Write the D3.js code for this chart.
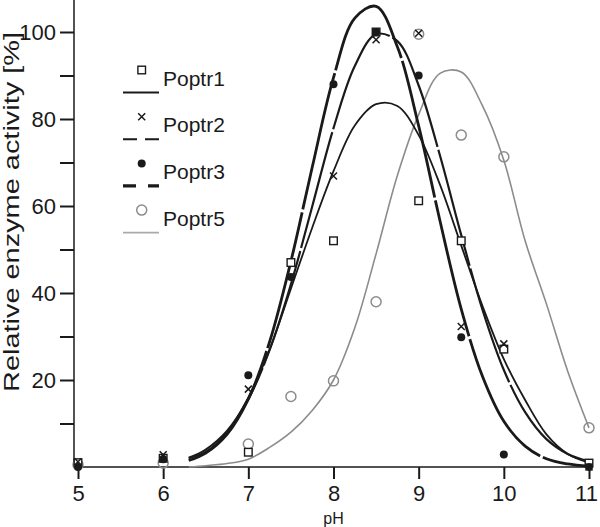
<!DOCTYPE html>
<html>
<head>
<meta charset="utf-8">
<script src="https://cdn.jsdelivr.net/npm/d3@7"></script>
<style>
  html, body { margin: 0; padding: 0; background: #fff; }
  svg { display: block; }
  text { font-family: "Liberation Sans", Arial, Helvetica, sans-serif; fill: #1a1a1a; }
</style>
</head>
<body>
<svg id="chart" width="600" height="527"></svg>
<script>
// ---- data ----
const phTicks = [5, 6, 7, 8, 9, 10, 11];
const yMinorTicks = [10, 20, 30, 40, 50, 60, 70, 80, 90, 100];
const yLabelTicks = [20, 40, 60, 80, 100];
const seriesNames = ["Poptr1", "Poptr2", "Poptr3", "Poptr5"];

// measured points
const ph = [5, 6, 7, 7.5, 8, 8.5, 9, 9.5, 10, 11];
const poptr1 = [1, 2, 3.4, 47, 52, 100, 61.2, 52, 27.1, 0.9];
const poptr2 = [1.2, 2.8, 17.9, null, 66.9, 98.2, 99.7, 32.3, 28.3, 0];
const poptr3 = [0, 1.8, 21.1, 43.7, 88, 100, 90, 29.8, 2.9, 0];
const poptr5 = [0.5, 0.9, 5.3, 16.2, 19.8, 38, 99.5, 76.3, 71.3, 9];

// fitted curves
const fitPh = [6.3, 6.5, 6.75, 7, 7.25, 7.5, 7.75, 8, 8.25, 8.5, 8.75, 9, 9.25, 9.5, 9.75, 10, 10.25, 10.5, 10.75, 11];
const fit1 = [2, 3.5, 8, 16, 27, 41, 55, 68, 78.5, 83.4, 83.0, 76.3, 64.9, 50.9, 37.0, 24.8, 15.4, 7.5, 3, 1];
const fit2 = [2.1, 4.0, 8.3, 15.6, 26.9, 42.0, 59.9, 77.9, 92.2, 99.5, 97.9, 87.7, 71.6, 53.3, 36.1, 22.3, 12.6, 6.4, 3.0, 1.3];
const fit3 = [1.5, 3.2, 7.5, 15.6, 28.8, 47.3, 68.9, 89.5, 103.2, 105.9, 96.6, 78.4, 56.6, 36.3, 20.8, 10.5, 4.8, 1.9, 0.7, 0.2];
const fit5 = [0, 0.3, 0.8, 1.8, 4.5, 8, 13, 20, 32, 49, 67, 81, 90.5, 90.8, 83, 70.5, 52, 37.5, 22, 9];

// ---- layout ----
const svg = d3.select("#chart");
const x = d3.scaleLinear().domain([5, 11]).range([78, 589]);
const y = d3.scaleLinear().domain([0, 100]).range([467, 32]);
const axisX0 = 74;
const BLACK = "#1a1a1a";
const GRAY = "#8c8c8c";

// axes
const gx = svg.append("g").attr("transform", `translate(0,${y(0)})`)
  .call(d3.axisBottom(x).tickValues(phTicks).tickSize(12).tickPadding(6).tickFormat(d3.format("d")));
gx.select(".domain").remove();
gx.selectAll(".tick line").attr("stroke", BLACK).attr("stroke-width", 2);
gx.selectAll(".tick text").style("font-size", "22px").attr("dy", "0.71em")
  .attr("dx", d => d === 11 ? -3 : 0);
svg.append("line").attr("x1", axisX0).attr("x2", x(11)).attr("y1", y(0)).attr("y2", y(0))
  .attr("stroke", BLACK).attr("stroke-width", 1.5);

const gy = svg.append("g").attr("transform", `translate(${axisX0},0)`)
  .call(d3.axisLeft(y).tickValues(yMinorTicks).tickSize(14).tickPadding(4)
    .tickFormat(d => yLabelTicks.includes(d) ? d : ""));
gy.select(".domain").remove();
gy.selectAll(".tick line").attr("stroke", BLACK).attr("stroke-width", 2);
gy.selectAll(".tick text").style("font-size", "22px");
svg.append("line").attr("x1", axisX0).attr("x2", axisX0).attr("y1", 0).attr("y2", y(0))
  .attr("stroke", BLACK).attr("stroke-width", 1.5);

svg.append("text").attr("x", x(8)).attr("y", 524).attr("text-anchor", "middle")
  .style("font-size", "16px").text("pH");
svg.append("text").attr("transform", `translate(19,${212}) rotate(-90)`)
  .attr("text-anchor", "middle").style("font-size", "22px")
  .attr("textLength", 360).attr("lengthAdjust", "spacingAndGlyphs")
  .text("Relative enzyme activity [%]");

// curves
const line = d3.line().x(d => x(d[0])).y(d => y(d[1])).curve(d3.curveCatmullRom.alpha(0.5));
const curveDefs = [
  { vals: fit5, stroke: GRAY, width: 1.6, dash: null },
  { vals: fit1, stroke: BLACK, width: 1.8, dash: null },
  { vals: fit2, stroke: BLACK, width: 2.2, dash: "120,3" },
  { vals: fit3, stroke: BLACK, width: 2.8, dash: "140,3" }
];
curveDefs.forEach(c => {
  svg.append("path").datum(fitPh.map((p, i) => [p, c.vals[i]]))
    .attr("d", line).attr("fill", "none").attr("stroke", c.stroke)
    .attr("stroke-width", c.width).attr("stroke-dasharray", c.dash);
});

// markers
function drawMarker(g, type, cx, cy) {
  if (type === "square") {
    g.append("rect").attr("x", cx - 3.8).attr("y", cy - 3.8).attr("width", 7.6).attr("height", 7.6)
      .attr("fill", "#fff").attr("stroke", BLACK).attr("stroke-width", 1.4);
  } else if (type === "cross") {
    const s = 3.5;
    g.append("path").attr("d", `M${cx - s},${cy - s}L${cx + s},${cy + s}M${cx - s},${cy + s}L${cx + s},${cy - s}`)
      .attr("stroke", BLACK).attr("stroke-width", 1.5).attr("fill", "none");
  } else if (type === "dot") {
    g.append("circle").attr("cx", cx).attr("cy", cy).attr("r", 4).attr("fill", BLACK);
  } else if (type === "circle") {
    g.append("circle").attr("cx", cx).attr("cy", cy).attr("r", 5).attr("fill", "none")
      .attr("stroke", GRAY).attr("stroke-width", 1.5);
  }
}
const pts = svg.append("g");
const seriesDefs = [
  { vals: poptr5, type: "circle" },
  { vals: poptr1, type: "square" },
  { vals: poptr3, type: "dot" },
  { vals: poptr2, type: "cross" }
];
seriesDefs.forEach(s => {
  ph.forEach((p, i) => {
    if (s.vals[i] == null) return;
    drawMarker(pts, s.type, x(p), y(s.vals[i]));
  });
});

// legend
const legend = svg.append("g");
const legendItems = [
  { name: seriesNames[0], type: "square", stroke: BLACK, width: 1.8, dash: null },
  { name: seriesNames[1], type: "cross", stroke: BLACK, width: 2, dash: "14,8" },
  { name: seriesNames[2], type: "dot", stroke: BLACK, width: 3.2, dash: "13,12" },
  { name: seriesNames[3], type: "circle", stroke: "#aaa", width: 1.6, dash: null }
];
legendItems.forEach((d, i) => {
  const by = 70 + i * 46.7;
  drawMarker(legend, d.type, 141.7, by);
  legend.append("line").attr("x1", 123).attr("x2", 159).attr("y1", by + 22.5).attr("y2", by + 22.5)
    .attr("stroke", d.stroke).attr("stroke-width", d.width).attr("stroke-dasharray", d.dash);
  legend.append("text").attr("x", 163).attr("y", by + 15.5).style("font-size", "21px").text(d.name);
});
</script>
</body>
</html>
